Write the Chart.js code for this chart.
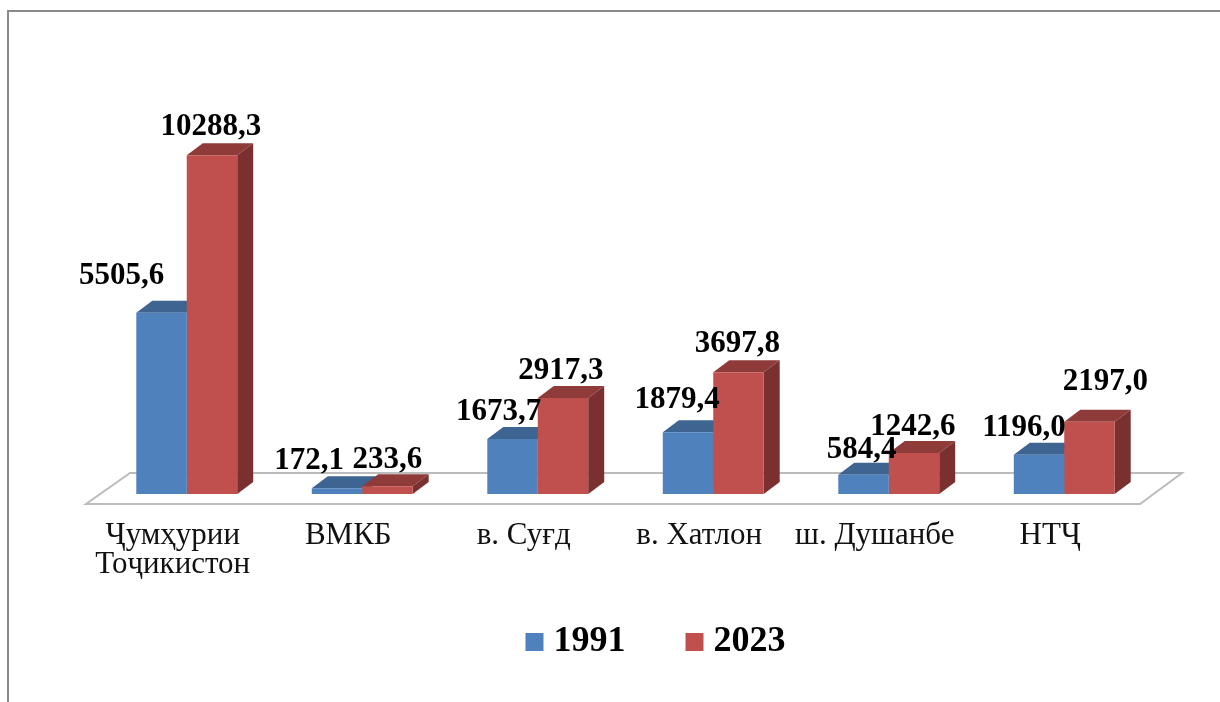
<!DOCTYPE html>
<html>
<head>
<meta charset="utf-8">
<style>
html,body{margin:0;padding:0;background:#fff;width:1220px;height:702px;overflow:hidden}
#frame{position:absolute;left:7px;top:10px;width:1213px;height:692px;border-top:2px solid #8a8a8a;border-left:2px solid #8a8a8a;box-sizing:border-box}
canvas{position:absolute;left:0;top:0}
</style>
<script src="https://cdn.jsdelivr.net/npm/chart.js@4/dist/chart.umd.min.js"></script>
</head>
<body>
<div id="frame"></div>
<canvas id="c" width="1220" height="702"></canvas>
<script>
const categories = [["Ҷумҳурии","Тоҷикистон"],"ВМКБ","в. Суғд","в. Хатлон","ш. Душанбе","НТҶ"];
const years = ["1991","2023"];
const values1991 = [5505.6,172.1,1673.7,1879.4,584.4,1196.0];
const values2023 = [10288.3,233.6,2917.3,3697.8,1242.6,2197.0];

const SERIF = '"Liberation Serif","Times New Roman",serif';
const DEPTH = {x:16,y:12};
const faces = [
  {front:'#4f81bd',top:'#3e6591',side:'#335579'},
  {front:'#c0504d',top:'#8e3b39',side:'#7a302e'}
];
/* hand placement of each value label relative to its bar top: [dx, dy] */
const labelShift = [
  [[-40,-37],[-28,-27],[-14,-27],[-11,-32],[-2,-25],[-15,-27]],
  [[-1,-28],[0,-26],[-2,-27],[-1,-28],[-1,-26],[16,-40]]
];
const fmt = v => v.toFixed(1).replace('.',',');

const poly = (ctx,pts,fill) => {
  ctx.beginPath();
  pts.forEach((p,i)=> i?ctx.lineTo(p[0],p[1]):ctx.moveTo(p[0],p[1]));
  ctx.closePath();
  ctx.fillStyle = fill;
  ctx.fill();
};

const scene3d = {
  id:'scene3d',
  afterLayout(chart){
    chart.legend.left += 34;
    chart.legend.right += 34;
    chart.legend.top -= 1;
    chart.legend.bottom -= 1;
    /* the two-line category label hangs below the reserved axis box */
    chart.scales.x.bottom += 50;
  },
  beforeDatasetsDraw(chart){
    const ctx = chart.ctx, base = chart.scales.y.getPixelForValue(0);
    const a = chart.chartArea;
    /* floor */
    const fy = base+10, by = base-21;
    ctx.save();
    ctx.beginPath();
    ctx.moveTo(a.left-13,fy);
    ctx.lineTo(a.right-12,fy);
    ctx.lineTo(a.right+30,by);
    ctx.lineTo(a.left+31,by);
    ctx.closePath();
    ctx.fillStyle='#fff';
    ctx.fill();
    ctx.strokeStyle='#bcbcbc';
    ctx.lineWidth=2;
    ctx.stroke();
    /* bar depth */
    chart.data.datasets.forEach((ds,i)=>{
      const f = faces[i];
      chart.getDatasetMeta(i).data.forEach(b=>{
        const l=b.x-b.width/2, r=b.x+b.width/2, t=b.y;
        poly(ctx,[[l,t],[r,t],[r+DEPTH.x,t-DEPTH.y],[l+DEPTH.x,t-DEPTH.y]],f.top);
        poly(ctx,[[r,t],[r+DEPTH.x,t-DEPTH.y],[r+DEPTH.x,base-DEPTH.y],[r,base]],f.side);
      });
    });
    ctx.restore();
  },
  afterDatasetsDraw(chart){
    const ctx = chart.ctx;
    ctx.save();
    ctx.font = 'bold 31px '+SERIF;
    ctx.fillStyle = '#000';
    ctx.textAlign = 'center';
    ctx.textBaseline = 'middle';
    chart.data.datasets.forEach((ds,i)=>{
      chart.getDatasetMeta(i).data.forEach((b,j)=>{
        const s = labelShift[i][j];
        ctx.fillText(fmt(ds.data[j]), b.x+s[0], b.y+s[1]);
      });
    });
    ctx.restore();
  }
};

new Chart(document.getElementById('c'),{
  type:'bar',
  data:{
    labels:categories,
    datasets:[
      {label:years[0],data:values1991,backgroundColor:faces[0].front,borderWidth:0,categoryPercentage:0.575,barPercentage:1},
      {label:years[1],data:values2023,backgroundColor:faces[1].front,borderWidth:0,categoryPercentage:0.575,barPercentage:1}
    ]
  },
  plugins:[scene3d],
  options:{
    responsive:false,
    animation:false,
    devicePixelRatio:1,
    layout:{padding:{left:99,right:68,top:99,bottom:31}},
    scales:{
      x:{
        grid:{display:false},
        border:{display:false},
        afterFit(s){s.height=63;},
        ticks:{
          color:'#111',
          padding:19,
          labelOffset:-14,
          maxRotation:0,
          autoSkip:false,
          font:{family:SERIF,size:31,lineHeight:0.94}
        }
      },
      y:{display:false,min:0,max:12000}
    },
    plugins:{
      tooltip:{enabled:false},
      title:{display:false},
      legend:{
        display:true,
        position:'bottom',
        labels:{
          usePointStyle:true,
          pointStyle:'rect',
          boxWidth:2,
          boxHeight:18,
          padding:68,
          color:'#000',
          font:{family:SERIF,size:36,weight:'bold'}
        }
      }
    }
  }
});
</script>
</body>
</html>
